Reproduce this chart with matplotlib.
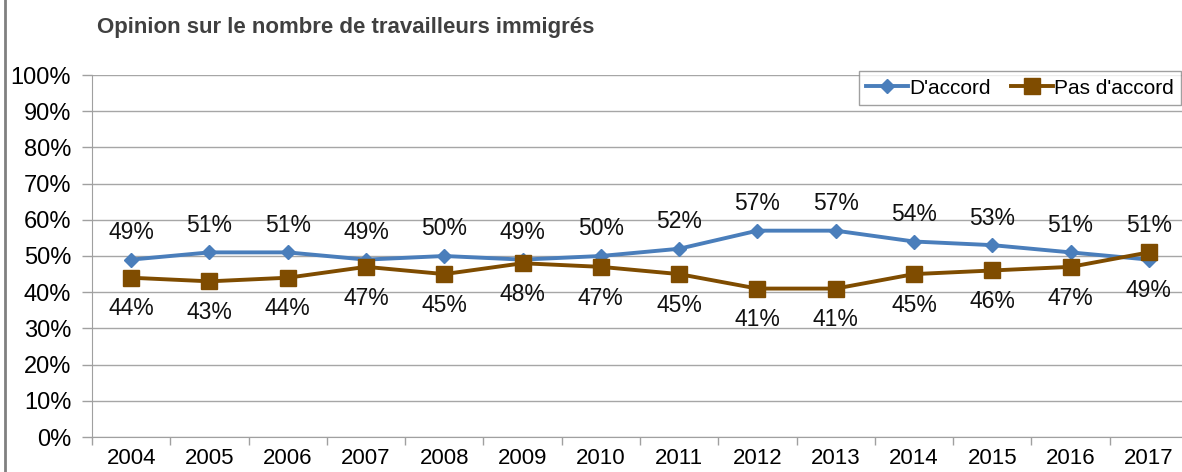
import matplotlib
matplotlib.use("Agg")
import matplotlib.pyplot as plt
from matplotlib.lines import Line2D

years = ["2004", "2005", "2006", "2007", "2008", "2009", "2010", "2011",
         "2012", "2013", "2014", "2015", "2016", "2017"]
accord = [49, 51, 51, 49, 50, 49, 50, 52, 57, 57, 54, 53, 51, 49]
pas_accord = [44, 43, 44, 47, 45, 48, 47, 45, 41, 41, 45, 46, 47, 51]
title = "Opinion sur le nombre de travailleurs immigrés"

plt.rcParams['font.family'] = ['Liberation Sans', 'DejaVu Sans']

W, H = 1182, 472
fig = plt.figure(figsize=(W / 100, H / 100), dpi=100)
left, right, top, bottom = 92, 1188, 75, 437
ax = fig.add_axes([left / W, (H - bottom) / H, (right - left) / W, (bottom - top) / H])

blue = "#4A7EBB"
brown = "#7F4C00"
x = list(range(len(years)))
ax.plot(x, accord, color=blue, lw=2.8, marker="D", ms=7.5, label="D'accord", zorder=3)
ax.plot(x, pas_accord, color=brown, lw=2.8, marker="s", ms=11.5, label="Pas d'accord", zorder=3)

up, down = 19.5, 22.5
for i, (a, p) in enumerate(zip(accord, pas_accord)):
    a_above = a >= p
    ax.annotate(f"{a}%", (i, a), xytext=(0, up if a_above else -down), textcoords="offset points",
                ha="center", va="center", fontsize=16.5, color="#111111")
    ax.annotate(f"{p}%", (i, p), xytext=(0, -down if a_above else up), textcoords="offset points",
                ha="center", va="center", fontsize=16.5, color="#111111")

ax.set_xlim(-0.5, len(years) - 0.5)
ax.set_ylim(0, 100)
ax.set_yticks(range(0, 101, 10))
ax.set_yticklabels([f"{v}%" for v in range(0, 101, 10)], fontsize=17)
ax.set_xticks(x)
ax.set_xticklabels(years, fontsize=16)
ax.set_xticks([i - 0.5 for i in range(len(years) + 1)], minor=True)
ax.tick_params(axis="x", which="major", length=0, pad=8)
ax.tick_params(axis="x", which="minor", length=6, color="#A0A0A0", width=1)
ax.tick_params(axis="y", length=7, color="#A0A0A0", width=1, pad=8)
ax.grid(axis="y", color="#A6A6A6", lw=1)
ax.set_axisbelow(True)
for s in ["top", "right"]:
    ax.spines[s].set_visible(False)
for s in ["left", "bottom"]:
    ax.spines[s].set_color("#A0A0A0")

leg = ax.legend(loc="upper right", bbox_to_anchor=((1181 - left) / (right - left), 1.01),
                ncol=2, fontsize=15, frameon=True, fancybox=False, edgecolor="#888888",
                handlelength=2.0, handletextpad=0.05, columnspacing=1.0, borderpad=0.35,
                borderaxespad=0)
leg.get_frame().set_linewidth(1)

fig.text(97 / W, 1 - 28 / H, title, fontsize=16, fontweight="bold", color="#404040", va="center")
fig.add_artist(Line2D([5 / W, 5 / W], [0, 1], color="#808080", lw=2, transform=fig.transFigure))

fig.savefig("out.png", dpi=100)
